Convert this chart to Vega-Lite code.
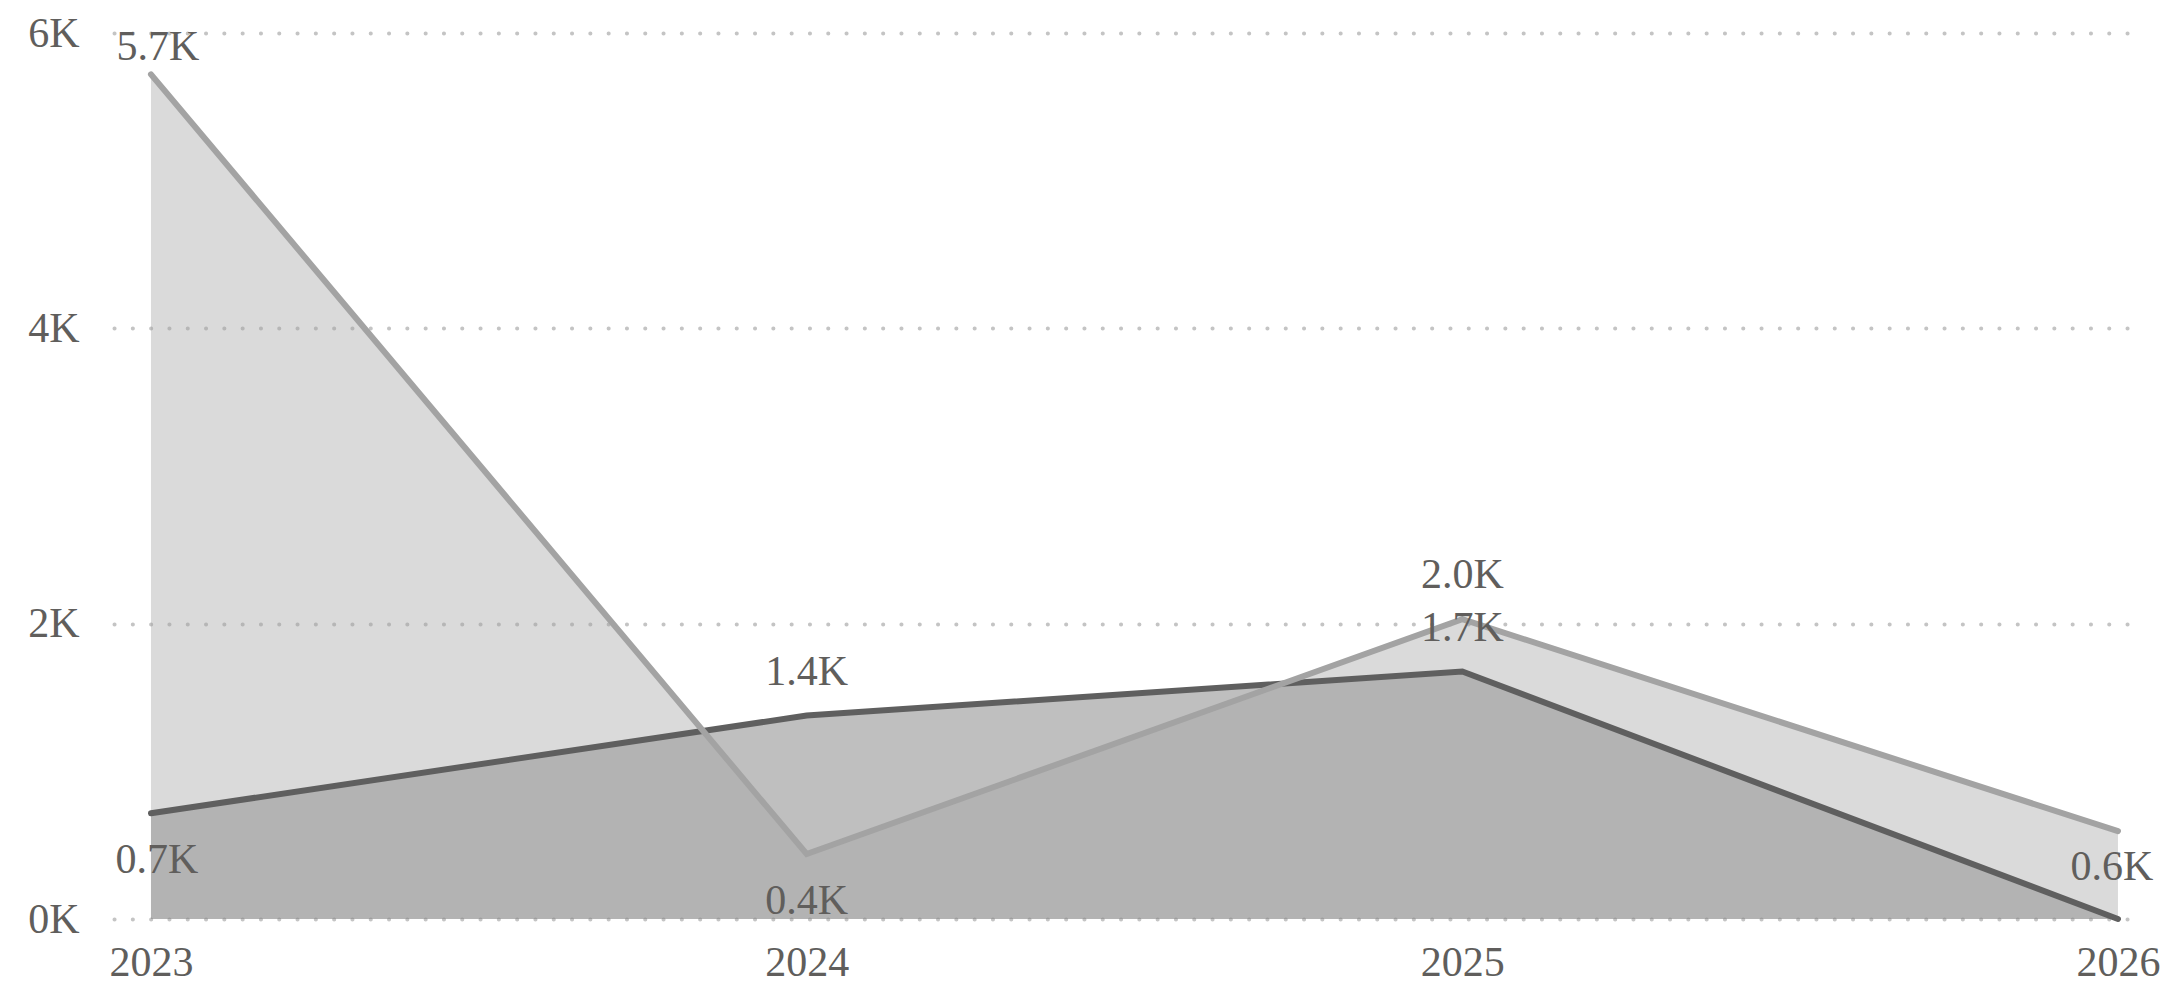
{
  "$schema": "https://vega.github.io/schema/vega-lite/v6.json",
  "width": 2031,
  "height": 886,
  "autosize": {"type": "none"},
  "padding": {"left": 114, "top": 33, "right": 23, "bottom": 70},
  "background": "white",
  "config": {
    "view": {"stroke": null},
    "font": "Liberation Serif"
  },
  "data": {
    "values": [
      {"year": 2023, "series": "A", "value": 5720},
      {"year": 2024, "series": "A", "value": 440},
      {"year": 2025, "series": "A", "value": 2030},
      {"year": 2026, "series": "A", "value": 595},
      {"year": 2023, "series": "B", "value": 716},
      {"year": 2024, "series": "B", "value": 1378},
      {"year": 2025, "series": "B", "value": 1676},
      {"year": 2026, "series": "B", "value": 0}
    ]
  },
  "transform": [
    {"calculate": "format(datum.value/1000, '.1f') + 'K'", "as": "label"}
  ],
  "encoding": {
    "x": {
      "field": "year",
      "type": "quantitative",
      "scale": {"domain": [2022.9436, 2026.0412], "nice": false, "zero": false},
      "axis": {
        "title": null,
        "values": [2023, 2024, 2025, 2026],
        "format": "d",
        "grid": false,
        "ticks": false,
        "domain": false,
        "labelFont": "Liberation Serif",
        "labelFontSize": 42,
        "labelColor": "#605E5C",
        "labelPadding": 23,
        "labelFlush": false,
        "labelOverlap": false,
        "labelBound": false
      }
    },
    "y": {
      "field": "value",
      "type": "quantitative",
      "stack": null,
      "scale": {"domain": [0, 6000], "nice": false},
      "axis": {
        "title": null,
        "values": [0, 2000, 4000, 6000],
        "labelExpr": "datum.value/1000 + 'K'",
        "grid": true,
        "gridColor": "#C4C4C4",
        "gridWidth": 4,
        "gridDash": [0.1, 18.2],
        "gridCap": "round",
        "ticks": false,
        "domain": false,
        "labelFont": "Liberation Serif",
        "labelFontSize": 42,
        "labelColor": "#605E5C",
        "labelPadding": 35,
        "labelBound": false
      }
    }
  },
  "layer": [
    {
      "transform": [{"filter": "datum.series == 'B'"}],
      "mark": {"type": "area", "color": "#5F5F5F", "opacity": 0.4}
    },
    {
      "transform": [{"filter": "datum.series == 'A'"}],
      "mark": {"type": "area", "color": "#A3A3A3", "opacity": 0.4}
    },
    {
      "transform": [{"filter": "datum.series == 'B'"}],
      "mark": {"type": "line", "color": "#5F5F5F", "strokeWidth": 6, "strokeCap": "round"}
    },
    {
      "transform": [{"filter": "datum.series == 'A'"}],
      "mark": {"type": "line", "color": "#A3A3A3", "strokeWidth": 6, "strokeCap": "round"}
    },
    {
      "transform": [{"filter": "(datum.series == 'A' && datum.year == 2025) || (datum.series == 'B' && (datum.year == 2024 || datum.year == 2025))"}],
      "mark": {"type": "text", "font": "Liberation Serif", "fontSize": 42, "color": "#605E5C", "baseline": "middle", "dy": -44},
      "encoding": {"text": {"field": "label"}}
    },
    {
      "transform": [{"filter": "datum.series == 'A' && datum.year == 2023"}],
      "mark": {"type": "text", "font": "Liberation Serif", "fontSize": 42, "color": "#605E5C", "baseline": "middle", "dy": -27, "dx": 7},
      "encoding": {"text": {"field": "label"}}
    },
    {
      "transform": [{"filter": "datum.series == 'B' && datum.year == 2023"}],
      "mark": {"type": "text", "font": "Liberation Serif", "fontSize": 42, "color": "#605E5C", "baseline": "middle", "dy": 47, "dx": 6},
      "encoding": {"text": {"field": "label"}}
    },
    {
      "transform": [{"filter": "datum.series == 'A' && datum.year == 2024"}],
      "mark": {"type": "text", "font": "Liberation Serif", "fontSize": 42, "color": "#605E5C", "baseline": "middle", "dy": 47},
      "encoding": {"text": {"field": "label"}}
    },
    {
      "transform": [{"filter": "datum.series == 'A' && datum.year == 2026"}],
      "mark": {"type": "text", "font": "Liberation Serif", "fontSize": 42, "color": "#605E5C", "baseline": "middle", "dy": 36, "dx": -6},
      "encoding": {"text": {"field": "label"}}
    }
  ]
}
